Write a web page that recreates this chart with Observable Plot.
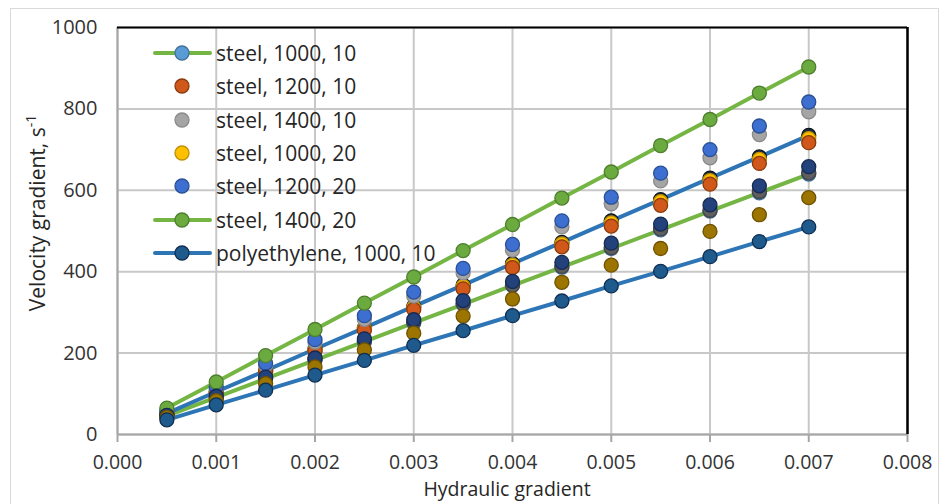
<!DOCTYPE html>
<html>
<head>
<meta charset="utf-8">
<script src="https://cdn.jsdelivr.net/npm/d3@7"></script>
<script src="https://cdn.jsdelivr.net/npm/@observablehq/plot@0.6"></script>
<style>
  body { margin: 0; background: #fff; }
  #wrap { position: relative; width: 947px; height: 504px; font-family: "Open Sans", sans-serif; overflow: hidden; }
  #border { position: absolute; left: 10px; top: 8px; width: 929px; height: 500px; border: 1.5px solid #d9d9d9; box-sizing: border-box; pointer-events: none; }
  .row { position: absolute; left: 152px; height: 30px; display: flex; align-items: center; }
  .row svg { flex: none; }
  .row span { font-size: 21px; color: #262626; margin-left: 4px; line-height: 30px; white-space: nowrap; }
  #wrap svg g[aria-label="y-axis tick label"] { font-size: 20px; }
  #wrap svg g[aria-label="x-axis tick label"] { font-size: 19.5px; }
</style>
</head>
<body>
<div id="wrap"><div id="border"></div></div>
<script>
// ---- data ----
const hydraulic = [0.0005, 0.001, 0.0015, 0.002, 0.0025, 0.003, 0.0035, 0.004, 0.0045, 0.005, 0.0055, 0.006, 0.0065, 0.007];

const steel_1000_10 = [46, 91, 137, 183, 228, 274, 320, 366, 411, 457, 503, 549, 594, 640];
const steel_1200_10 = [51, 102, 154, 205, 256, 307, 358, 410, 461, 512, 563, 615, 666, 717];
const steel_1400_10 = [57, 113, 170, 227, 283, 340, 397, 453, 510, 567, 623, 680, 737, 793];
const steel_1000_20 = [52, 104, 156, 208, 260, 312, 364, 416, 468, 520, 572, 624, 676, 727];
const steel_1200_20 = [58, 117, 175, 233, 292, 350, 408, 467, 525, 583, 642, 700, 758, 817];
const steel_1400_20 = [65, 129, 194, 258, 323, 387, 452, 516, 581, 645, 710, 774, 839, 903];
const poly_1000_10  = [36, 73, 109, 146, 182, 219, 255, 292, 328, 365, 401, 437, 474, 510];
const poly_1200_10  = [52, 105, 157, 210, 262, 315, 367, 420, 472, 525, 577, 630, 682, 735];
const poly_1400_10  = [47, 94, 141, 188, 235, 282, 329, 376, 423, 470, 517, 564, 611, 658];
const poly_1000_20  = [46, 92, 138, 184, 230, 276, 322, 367, 413, 459, 505, 551, 597, 643];
const poly_1200_20  = [42, 83, 125, 166, 208, 249, 291, 333, 374, 416, 457, 499, 540, 582];

const xTicks = [0, 0.001, 0.002, 0.003, 0.004, 0.005, 0.006, 0.007, 0.008];
const yTicks = [0, 200, 400, 600, 800, 1000];

// series: name, values, marker fill, marker stroke, line colour (null = markers only)
const series = [
  {name: "steel, 1000, 10",        values: steel_1000_10, fill: "#5b9bd5", stroke: "#41719c", line: "#74b544"},
  {name: "polyethylene, 1200, 10", values: poly_1200_10,  fill: "#1c2a3f", stroke: "#0d1520", line: "#2e75b6"},
  {name: "steel, 1000, 20",        values: steel_1000_20, fill: "#ffc000", stroke: "#bf9000", line: null},
  {name: "steel, 1200, 10",        values: steel_1200_10, fill: "#d0581a", stroke: "#8a3a0c", line: null},
  {name: "steel, 1400, 10",        values: steel_1400_10, fill: "#a5a5a5", stroke: "#8a8a8a", line: null},
  {name: "steel, 1200, 20",        values: steel_1200_20, fill: "#3d6fd0", stroke: "#2a4f94", line: null},
  {name: "steel, 1400, 20",        values: steel_1400_20, fill: "#6aaa3f", stroke: "#4e7e2e", line: "#74b544"},
  {name: "polyethylene, 1000, 20", values: poly_1000_20,  fill: "#5f5f5f", stroke: "#444444", line: null},
  {name: "polyethylene, 1400, 10", values: poly_1400_10,  fill: "#23417a", stroke: "#152a52", line: null},
  {name: "polyethylene, 1200, 20", values: poly_1200_20,  fill: "#9c7400", stroke: "#6e5200", line: null},
  {name: "polyethylene, 1000, 10", values: poly_1000_10,  fill: "#1f5a8c", stroke: "#0f2f52", line: "#2e75b6"}
];
const legendOrder = ["steel, 1000, 10", "steel, 1200, 10", "steel, 1400, 10", "steel, 1000, 20", "steel, 1200, 20", "steel, 1400, 20", "polyethylene, 1000, 10"];

const rows = series.flatMap((s, k) => s.values.map((v, i) => ({series: s.name, order: k, x: hydraulic[i], y: v, fill: s.fill, stroke: s.stroke, line: s.line})));
const lineRows = rows.filter(d => d.line);

const plot = Plot.plot({
  width: 947,
  height: 504,
  marginLeft: 117,
  marginRight: 40,
  marginTop: 27,
  marginBottom: 70,
  style: {fontFamily: "Open Sans, sans-serif", fontSize: "20px", background: "transparent"},
  x: {domain: [0, 0.008], label: null},
  y: {domain: [0, 1000], label: null},
  color: {type: "identity"},
  marks: [
    Plot.gridX(xTicks, {stroke: "#c8c8c8", strokeOpacity: 1, strokeWidth: 2}),
    Plot.gridY(yTicks, {stroke: "#c8c8c8", strokeOpacity: 1, strokeWidth: 2}),
    Plot.ruleX([0], {stroke: "#a6a6a6", strokeWidth: 2}),
    Plot.ruleY([0], {stroke: "#a6a6a6", strokeWidth: 2}),
    Plot.ruleY([1000], {stroke: "#000", strokeWidth: 2}),
    Plot.ruleX([0.008], {stroke: "#000", strokeWidth: 2.5}),
    Plot.axisX({ticks: xTicks, tickFormat: d3.format(".3f"), tickSize: 8, tickPadding: 13, stroke: "#a6a6a6", strokeWidth: 2, fill: "#333"}),
    Plot.axisY({ticks: yTicks, tickFormat: d3.format("d"), tickSize: 0, tickPadding: 20, fill: "#333"}),
    Plot.line(lineRows, {x: "x", y: "y", z: "series", stroke: "line", strokeWidth: 4, strokeLinejoin: "round"}),
    Plot.dot(rows, {x: "x", y: "y", r: 7, fill: "fill", stroke: "stroke", strokeWidth: 1.3, sort: "order"})
  ]
});

const wrap = document.getElementById("wrap");
wrap.appendChild(plot);

const svg = d3.select(plot);
const yTitle = svg.append("text")
  .attr("transform", "translate(45,213) rotate(-90)")
  .attr("text-anchor", "middle")
  .attr("fill", "#262626")
  .style("font-size", "21px");
yTitle.append("tspan").text("Velocity gradient, s");
yTitle.append("tspan").attr("baseline-shift", "super").style("font-size", "14px").text("-1");

svg.append("text")
  .attr("x", 507).attr("y", 496)
  .attr("text-anchor", "middle")
  .attr("fill", "#262626")
  .style("font-size", "19.5px")
  .text("Hydraulic gradient");

// legend (first seven series, as in the reference)
legendOrder.forEach((name, i) => {
  const s = series.find(d => d.name === name);
  const row = document.createElement("div");
  row.className = "row";
  row.style.top = (38 + i * 33.3) + "px";
  const lineSvg = s.line ? `<line x1="3" y1="15" x2="58" y2="15" stroke="${s.line}" stroke-width="4" stroke-linecap="round"/>` : "";
  row.innerHTML = `<svg width="60" height="30">${lineSvg}<circle cx="30" cy="15" r="7" fill="${s.fill}" stroke="${s.stroke}" stroke-width="1.3"/></svg><span>${name}</span>`;
  wrap.appendChild(row);
});
</script>
</body>
</html>
